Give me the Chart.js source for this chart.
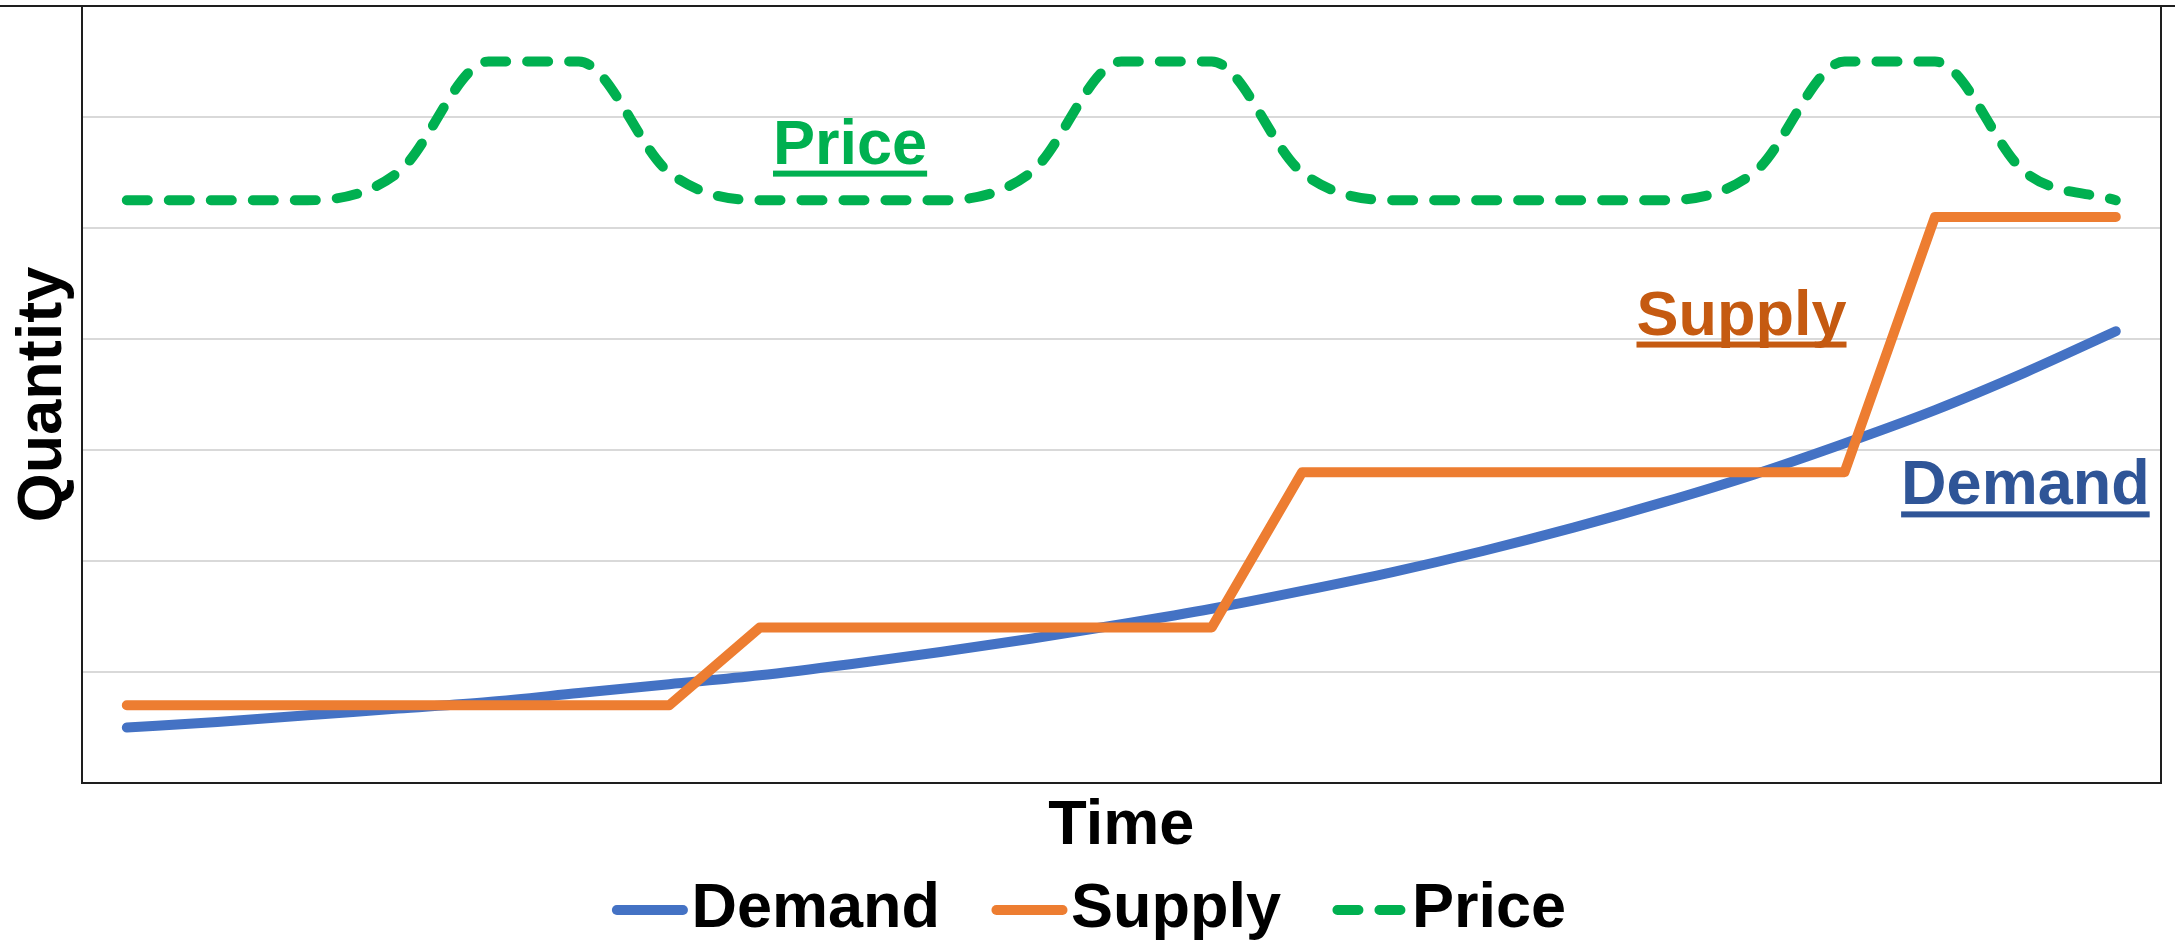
<!DOCTYPE html>
<html>
<head>
<meta charset="utf-8">
<title>Demand, Supply and Price over Time</title>
<script src="https://cdn.jsdelivr.net/npm/chart.js@4.4.1/dist/chart.umd.min.js"></script>
<style>
  html, body { margin: 0; padding: 0; background: #fff; }
  #wrap { width: 2175px; height: 945px; position: relative; }
</style>
</head>
<body>
<div id="wrap"><canvas id="chart"></canvas></div>
<script>
// time periods (no tick labels shown on the axis)
const periods = [1, 2, 3, 4, 5, 6, 7, 8, 9, 10, 11, 12, 13, 14, 15, 16, 17, 18, 19, 20, 21, 22, 23];

// values (y axis runs 0..7, gridline every 1)
const demand = [0.50, 0.55, 0.61, 0.67, 0.73, 0.81, 0.89, 0.97, 1.07, 1.18, 1.30, 1.43,
                1.57, 1.73, 1.90, 2.09, 2.30, 2.53, 2.78, 3.06, 3.36, 3.70, 4.07];
const supply = [0.7, 0.7, 0.7, 0.7, 0.7, 0.7, 0.7, 1.4, 1.4, 1.4, 1.4, 1.4,
                1.4, 2.8, 2.8, 2.8, 2.8, 2.8, 2.8, 2.8, 5.1, 5.1, 5.1];
const price  = [5.25, 5.25, 5.25, 5.5, 6.5, 6.5, 5.5, 5.25, 5.25, 5.25, 5.5, 6.5,
                6.5, 5.5, 5.25, 5.25, 5.25, 5.25, 5.5, 6.5, 6.5, 5.5, 5.25];

const yTicks = [0, 7, 1]; // min, max, step

// in-plot labels: text, category position, value at baseline
const noteText  = ['Price', 'Supply', 'Demand'];
const noteAt    = [8, 17.86, 21];
const noteValue = [5.58, 4.04, 2.51];
const noteColor = ['#00B050', '#C55A11', '#2F5597'];

const fontFamily = "'Liberation Sans', Arial, sans-serif";
const axisColor = '#1e1e1e';

const frameAndNotes = {
  id: 'frameAndNotes',
  afterDraw(chart) {
    const { ctx, chartArea: a, scales } = chart;
    ctx.save();
    // top rule across the picture and right edge of the plot
    ctx.strokeStyle = axisColor;
    ctx.lineWidth = 2;
    ctx.beginPath();
    ctx.moveTo(0, a.top);
    ctx.lineTo(chart.width, a.top);
    ctx.moveTo(a.right, a.top);
    ctx.lineTo(a.right, a.bottom);
    ctx.stroke();

    // underlined series names
    ctx.font = 'bold 63px ' + fontFamily;
    ctx.textAlign = 'center';
    ctx.textBaseline = 'alphabetic';
    noteText.forEach((t, i) => {
      const px = scales.x.getPixelForValue(noteAt[i]);
      const py = scales.y.getPixelForValue(noteValue[i]);
      const w = ctx.measureText(t).width;
      ctx.fillStyle = noteColor[i];
      ctx.fillText(t, px, py);
      ctx.fillRect(px - w / 2, py + 7, w, 6);
    });
    ctx.restore();
  }
};

const ctx = document.getElementById('chart').getContext('2d');
new Chart(ctx, {
  type: 'line',
  data: {
    labels: periods,
    datasets: [
      {
        label: 'Demand',
        data: demand,
        borderColor: '#4472C4',
        backgroundColor: '#4472C4',
        borderWidth: 10,
        borderCapStyle: 'round',
        borderJoinStyle: 'round',
        cubicInterpolationMode: 'monotone',
        pointRadius: 0,
        pointStyle: 'line',
        order: 3
      },
      {
        label: 'Supply',
        data: supply,
        borderColor: '#ED7D31',
        backgroundColor: '#ED7D31',
        borderWidth: 10,
        borderCapStyle: 'round',
        borderJoinStyle: 'round',
        tension: 0,
        pointRadius: 0,
        pointStyle: 'line',
        order: 2
      },
      {
        label: 'Price',
        data: price,
        borderColor: '#00B050',
        backgroundColor: '#00B050',
        borderWidth: 10,
        borderDash: [21, 21],
        borderCapStyle: 'round',
        borderJoinStyle: 'round',
        cubicInterpolationMode: 'monotone',
        pointRadius: 0,
        pointStyle: 'line',
        order: 1
      }
    ]
  },
  options: {
    responsive: true,
    maintainAspectRatio: false,
    devicePixelRatio: 1,
    animation: false,
    layout: {
      padding: { top: 6, right: 14, bottom: -6.5, left: 45 }
    },
    plugins: {
      tooltip: { enabled: false },
      legend: {
        position: 'bottom',
        labels: {
          usePointStyle: true,
          boxWidth: 20,
          boxHeight: 46.7,
          padding: 79.5,
          color: '#000',
          font: { family: fontFamily, size: 63, weight: 'bold' },
          sort: (a, b) => a.datasetIndex - b.datasetIndex,
          generateLabels(chart) {
            const items = Chart.defaults.plugins.legend.labels.generateLabels(chart);
            return items.map(it => {
              const ds = chart.data.datasets[it.datasetIndex];
              return Object.assign(it, {
                lineCap: 'round',
                lineDash: ds.borderDash || [],
                lineWidth: ds.borderWidth,
                strokeStyle: ds.borderColor
              });
            });
          }
        }
      }
    },
    scales: {
      x: {
        offset: true,
        ticks: { display: false },
        grid: { display: false, drawTicks: false },
        border: { display: true, color: axisColor, width: 2 },
        title: {
          display: true,
          text: 'Time',
          color: '#000',
          font: { family: fontFamily, size: 63, weight: 'bold', lineHeight: 1 },
          padding: { top: 12, bottom: -59 }
        }
      },
      y: {
        min: yTicks[0],
        max: yTicks[1],
        ticks: { display: false, stepSize: yTicks[2] },
        grid: { color: '#D9D9D9', lineWidth: 2, drawTicks: false },
        border: { display: true, color: axisColor, width: 2 },
        title: {
          display: true,
          text: 'Quantity',
          color: '#000',
          font: { family: fontFamily, size: 63, weight: 'bold', lineHeight: 1 },
          padding: { top: -33.3, bottom: 6.9 }
        }
      }
    }
  },
  plugins: [frameAndNotes]
});
</script>
</body>
</html>
